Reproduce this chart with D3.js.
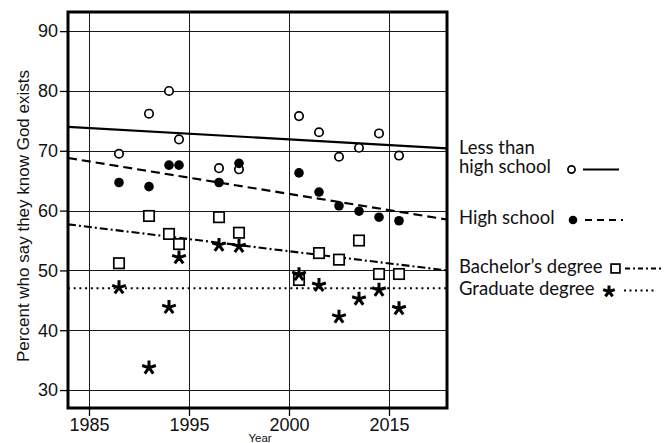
<!DOCTYPE html>
<html>
<head>
<meta charset="utf-8">
<script src="https://cdn.jsdelivr.net/npm/d3@7"></script>
<style>
  html, body { margin: 0; padding: 0; background: #fff; }
  svg { display: block; }
</style>
</head>
<body>
<svg id="chart" width="671" height="443"></svg>
<script>
// Survey years (GSS waves)
const years = [1988, 1991, 1993, 1994, 1998, 2000, 2006, 2008, 2010, 2012, 2014, 2016];

// Percent who say they know God exists, by education
const lessThanHS = [69.5, 76.2, 80.0, 71.9, 67.1, 66.9, 75.8, 73.1, 69.0, 70.5, 72.9, 69.2];
const highSchool = [64.7, 64.0, 67.6, 67.6, 64.7, 67.9, 66.3, 63.1, 60.8, 59.9, 58.9, 58.3];
const bachelors  = [51.2, 59.1, 56.1, 54.4, 58.9, 56.3, 48.4, 52.9, 51.8, 55.0, 49.4, 49.4];
const graduate   = [47.3, 33.9, 44.0, 52.3, 54.4, 54.2, 49.5, 47.7, 42.4, 45.4, 46.9, 43.8];

// Fitted trend values at the left and right edges of the plot
const trendStart = [74.0, 68.8, 57.7, 47.0];
const trendEnd   = [70.4, 58.5, 50.0, 47.0];

const seriesNames = [["Less than", "high school"], ["High school"], ["Bachelor’s degree"], ["Graduate degree"]];

// Axis ticks
const xTickValues = [1985, 1995, 2005, 2015];
const xTickLabels = ["1985", "1995", "2000", "2015"];
const yTickValues = [30, 40, 50, 60, 70, 80, 90];

const svg = d3.select("#chart");
const L = 68, R = 447, T = 12, B = 408;

const x = d3.scaleLinear().domain([1982.9, 2020.8]).range([L, R]);
const y = d3.scaleLinear().domain([27, 93.2]).range([B, T]);

const axisFont = "'Liberation Sans', Arial, sans-serif";
const legendFont = "Lato, 'Open Sans', sans-serif";

// Clip for plot contents
svg.append("defs").append("clipPath").attr("id", "plotClip")
  .append("rect").attr("x", L).attr("y", T).attr("width", R - L).attr("height", B - T);

// Gridlines
const grid = svg.append("g").attr("stroke", "#1a1a1a").attr("stroke-width", 1).attr("shape-rendering", "crispEdges");
grid.selectAll("line.h").data(yTickValues).join("line")
  .attr("x1", L).attr("x2", R).attr("y1", d => Math.round(y(d)) + 0.5).attr("y2", d => Math.round(y(d)) + 0.5);
grid.selectAll("line.v").data(xTickValues).join("line")
  .attr("y1", T).attr("y2", B).attr("x1", d => Math.round(x(d)) + 0.5).attr("x2", d => Math.round(x(d)) + 0.5);

// Axes
const yAxis = d3.axisLeft(y).tickValues(yTickValues).tickSize(8).tickPadding(2).tickFormat(d3.format("d"));
const gy = svg.append("g").attr("transform", `translate(${L},0)`).call(yAxis);
gy.select(".domain").remove();
gy.selectAll("line").attr("stroke-width", 1.3);
gy.selectAll("text").attr("font-family", axisFont).attr("font-size", 18).attr("fill", "#111");

const xAxis = d3.axisBottom(x).tickValues(xTickValues).tickSize(8).tickPadding(2)
  .tickFormat((d, i) => xTickLabels[i]);
const gx = svg.append("g").attr("transform", `translate(0,${B})`).call(xAxis);
gx.select(".domain").remove();
gx.selectAll("line").attr("stroke-width", 1.3);
gx.selectAll("text").attr("font-family", axisFont).attr("font-size", 18).attr("fill", "#111");

// Axis titles
svg.append("text")
  .attr("transform", `translate(29,216) rotate(-90)`)
  .attr("text-anchor", "middle")
  .attr("font-family", axisFont).attr("font-size", 17).attr("fill", "#111")
  .text("Percent who say they know God exists");
svg.append("text")
  .attr("x", 260).attr("y", 442)
  .attr("text-anchor", "middle")
  .attr("font-family", axisFont).attr("font-size", 11.5).attr("fill", "#111")
  .text("Year");

// Trend lines
const dashes = [null, "9,5", "8,3,2,3", "2,3.7"];
const plot = svg.append("g").attr("clip-path", "url(#plotClip)");
const xd = x.domain();
trendStart.forEach((v0, i) => {
  plot.append("line")
    .attr("x1", x(xd[0])).attr("x2", x(xd[1]))
    .attr("y1", y(v0)).attr("y2", y(trendEnd[i]))
    .attr("stroke", "#000").attr("stroke-width", i === 3 ? 2 : 2.1)
    .attr("stroke-dasharray", dashes[i]);
});

// Five-armed asterisk path centred at 0,0
function asterisk(r) {
  let p = "";
  for (let k = 0; k < 5; k++) {
    const a = -Math.PI / 2 + k * 2 * Math.PI / 5;
    p += `M0,0L${(r * Math.cos(a)).toFixed(2)},${(r * Math.sin(a)).toFixed(2)}`;
  }
  return p;
}

// Markers
function drawMarker(g, kind, cx, cy, scale) {
  const s = scale || 1;
  if (kind === 0) {
    g.append("circle").attr("cx", cx).attr("cy", cy).attr("r", 4.2 * s)
      .attr("fill", "#fff").attr("stroke", "#000").attr("stroke-width", 1.7);
  } else if (kind === 1) {
    g.append("circle").attr("cx", cx).attr("cy", cy).attr("r", 4.8 * s).attr("fill", "#000");
  } else if (kind === 2) {
    const h = 5.2 * s;
    g.append("rect").attr("x", cx - h).attr("y", cy - h).attr("width", 2 * h).attr("height", 2 * h)
      .attr("fill", "#fff").attr("stroke", "#000").attr("stroke-width", 1.7);
  } else {
    g.append("path").attr("transform", `translate(${cx},${cy + 1})`).attr("d", asterisk(7.2 * s))
      .attr("fill", "none").attr("stroke", "#000").attr("stroke-width", 3).attr("stroke-linecap", "butt");
  }
}

const series = [lessThanHS, highSchool, bachelors, graduate];
const pts = svg.append("g");
series.forEach((vals, i) => {
  vals.forEach((v, j) => drawMarker(pts, i, x(years[j]), y(v)));
});

// Frame
svg.append("rect").attr("x", L).attr("y", T).attr("width", R - L).attr("height", B - T)
  .attr("fill", "none").attr("stroke", "#000").attr("stroke-width", 3);

// Legend: one text element per entry, wrapped entries use tspans
const legend = svg.append("g").attr("font-family", legendFont).attr("font-size", 18.5).attr("fill", "#111");
const legendRows = [
  { base: 154, my: 169.5, mx: 571.5, lx: [583, 619] },
  { base: 224.3, my: 220, mx: 573, lx: [585, 623] },
  { base: 273.3, my: 268.5, mx: 615.5, lx: [625, 662] },
  { base: 295, my: 290.5, mx: 609, lx: [624, 657] }
];
legendRows.forEach((row, i) => {
  const txt = legend.append("text").attr("x", 459).attr("y", row.base);
  seriesNames[i].forEach((t, k) => {
    txt.append("tspan").attr("x", 459).attr("dy", k === 0 ? 0 : 19.3).text(t);
  });
  drawMarker(legend, i, row.mx, row.my, i === 0 ? 0.85 : (i === 1 ? 0.9 : 0.85));
  legend.append("line").attr("x1", row.lx[0]).attr("x2", row.lx[1])
    .attr("y1", row.my).attr("y2", row.my)
    .attr("stroke", "#000").attr("stroke-width", i === 3 ? 1.8 : 2)
    .attr("stroke-dasharray", i === 2 ? "5,3,2,3" : (i === 1 ? "7,5" : (i === 3 ? "2,3.5" : null)));
});
</script>
</body>
</html>
